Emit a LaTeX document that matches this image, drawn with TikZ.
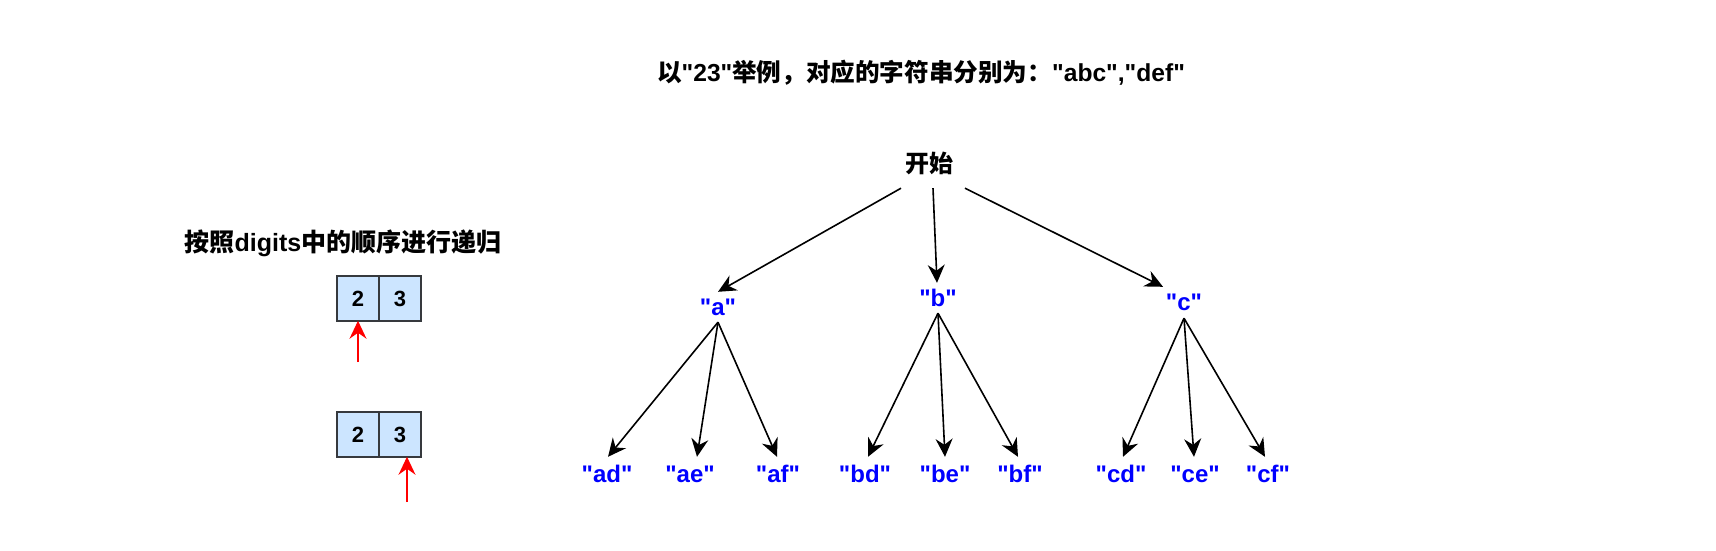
\documentclass[tikz,border=0pt]{standalone}
\usepackage{fontspec}
\setmainfont{Liberation Sans}[Ligatures=TeXOff]
\newfontfamily\cjk{Noto Sans CJK SC}[Ligatures=TeXOff]
\usetikzlibrary{arrows.meta}
\definecolor{cellfill}{HTML}{CCE5FF}
\definecolor{cellline}{HTML}{36393D}
\definecolor{lblblue}{HTML}{0000FF}
\tikzset{
  arr/.style={line width=1.6pt,-{Stealth[length=18pt,width=17pt,inset=6pt]}},
  redarr/.style={red,line width=1.6pt,-{Stealth[length=18pt,width=17pt,inset=6pt]}},
  lbl/.style={text=lblblue,font=\fontsize{24}{28}\selectfont\bfseries,inner sep=0pt,minimum width=40pt},
  leaf/.style={lbl,minimum height=34pt},
  cell/.style={draw=cellline,fill=cellfill,line width=1.5pt,minimum width=42pt,minimum height=45pt,inner sep=0pt,font=\fontsize{22}{26}\selectfont\bfseries},
  title/.style={inner sep=0pt,font=\bfseries}
}
\begin{document}
\begin{tikzpicture}[x=1pt,y=-1pt]
\useasboundingbox (0,0) rectangle (1716,551);
% titles
\node[title] (ttl) at (921,73) {{\cjk\fontsize{24.6}{28}\selectfont\bfseries 以}\fontsize{24.6}{28}\selectfont"23"{\cjk\fontsize{24.6}{28}\selectfont\bfseries 举例，对应的字符串分别为：}"abc","def"};
\node[title] (hd) at (343,243) {{\cjk\fontsize{25}{28}\selectfont\bfseries 按照}\fontsize{25}{28}\selectfont digits{\cjk\fontsize{25}{28}\selectfont\bfseries 中的顺序进行递归}};
% digits boxes
\node[cell] (b1c2) at (358,298.5) {2};
\node[cell] (b1c3) at (400,298.5) {3};
\node[cell] (b2c2) at (358,434.5) {2};
\node[cell] (b2c3) at (400,434.5) {3};
\coordinate (p1) at (358,362);
\coordinate (p2) at (407,502);
\draw[redarr] (p1) -- ([yshift=1pt]b1c2.south);
\draw[redarr] (p2) -- ([xshift=7pt,yshift=1pt]b2c3.south);
% tree
\node[inner sep=0pt,minimum height=50pt,font=\cjk\fontsize{24}{28}\selectfont\bfseries] (start) at (929,163) {开始};
\node[lbl,minimum height=30pt] (a) at (718,307) {"a"};
\node[lbl,minimum height=30pt] (b) at (938,298) {"b"};
\node[lbl,minimum height=31pt] (c) at (1184,302.5) {"c"};
\node[leaf] (ad) at (607,474) {"ad"};
\node[leaf] (ae) at (690,474) {"ae"};
\node[leaf] (af) at (778,474) {"af"};
\node[leaf] (bd) at (865,474) {"bd"};
\node[leaf] (be) at (945,474) {"be"};
\node[leaf] (bf) at (1020,474) {"bf"};
\node[leaf] (cd) at (1121,474) {"cd"};
\node[leaf] (ce) at (1195,474) {"ce"};
\node[leaf] (cf) at (1268,474) {"cf"};
\draw[arr] ([xshift=-28pt]start.south) -- (a.north);
\draw[arr] ([xshift=4pt]start.south) -- ([xshift=-1pt]b.north);
\draw[arr] ([xshift=36pt]start.south) -- ([xshift=-21pt]c.north);
\draw[arr] (a.south) -- ([xshift=1pt]ad.north);
\draw[arr] (a.south) -- ([xshift=7pt]ae.north);
\draw[arr] (a.south) -- ([xshift=-1pt]af.north);
\draw[arr] (b.south) -- ([xshift=3pt]bd.north);
\draw[arr] (b.south) -- (be.north);
\draw[arr] (b.south) -- ([xshift=-2pt]bf.north);
\draw[arr] (c.south) -- ([xshift=2pt]cd.north);
\draw[arr] (c.south) -- ([xshift=-1pt]ce.north);
\draw[arr] (c.south) -- ([xshift=-3pt]cf.north);
\end{tikzpicture}
\end{document}
